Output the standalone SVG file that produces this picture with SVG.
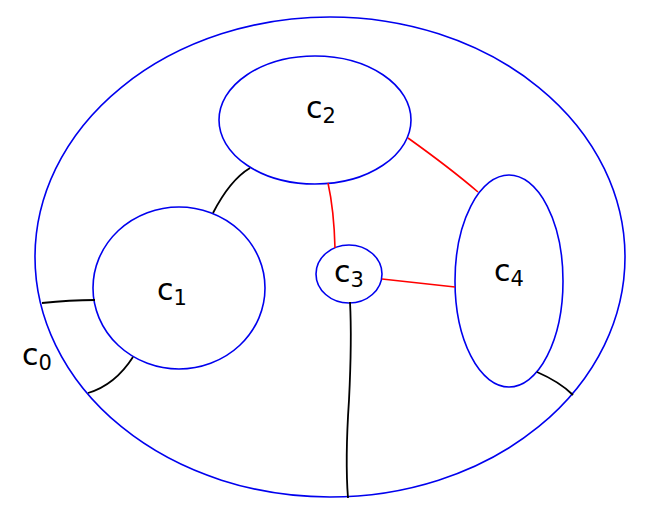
<svg xmlns="http://www.w3.org/2000/svg" width="668" height="530" viewBox="0 0 668 530">
<style>
.n{fill:none;stroke:#0000ee;stroke-width:1.6}
.k{fill:none;stroke:#000;stroke-width:1.8}
.r{fill:none;stroke:#f00;stroke-width:1.6}
text{font-family:"DejaVu Sans",sans-serif;font-size:30px;fill:#000}
.s{font-size:21px}
</style>
<rect width="668" height="530" fill="#fff"/>
<g id="c0"><ellipse class="n" cx="330" cy="257" rx="295" ry="240"/><text x="22" y="365">c<tspan class="s" dy="5">0</tspan></text></g>
<g id="c2"><ellipse class="n" cx="315" cy="120" rx="96" ry="64"/><text x="306" y="118">c<tspan class="s" dy="5">2</tspan></text></g>
<g id="c1"><ellipse class="n" cx="179" cy="288" rx="86" ry="81"/><text x="157" y="300">c<tspan class="s" dy="5">1</tspan></text></g>
<g id="c3"><ellipse class="n" cx="349" cy="274" rx="33" ry="29"/><text x="334" y="282">c<tspan class="s" dy="5">3</tspan></text></g>
<g id="c4"><ellipse class="n" cx="509" cy="281" rx="54" ry="106"/><text x="494" y="281">c<tspan class="s" dy="5">4</tspan></text></g>
<g id="connectors">
<path class="k" d="M250,168 Q230,180 213,213"/>
<path class="k" d="M95,300 Q70,300 42,303"/>
<path class="k" d="M133,357 Q115,385 88,393"/>
<path class="k" d="M350,302 Q352,340 349,400 Q345,460 348,498"/>
<path class="k" d="M537,372 Q560,382 573,395"/>
<path class="r" d="M328,183 Q334,210 335,248"/>
<path class="r" d="M408,138 Q450,168 478,192"/>
<path class="r" d="M382,279 L455,287"/>
</g>
</svg>
